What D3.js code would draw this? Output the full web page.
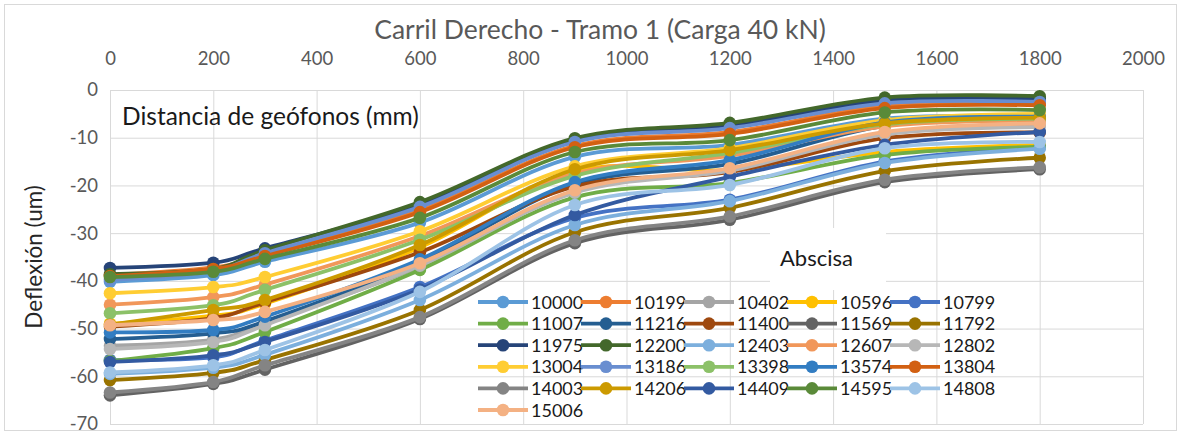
<!DOCTYPE html>
<html>
<head>
<meta charset="utf-8">
<script src="https://cdn.jsdelivr.net/npm/d3@7"></script>
<style>
  html, body { margin: 0; padding: 0; background: #fff; }
  svg { display: block; font-family: "Lato", "Liberation Sans", sans-serif; }
</style>
</head>
<body>
<svg id="chart" width="1181" height="435"></svg>
<script>
// Geophone distances (mm) along the top axis
const distances = [0, 200, 300, 600, 900, 1200, 1500, 1800];

// Abscissa (station) of each deflection basin
const abscisas = ["10000","10199","10402","10596","10799","11007","11216","11400","11569","11792",
                  "11975","12200","12403","12607","12802","13004","13186","13398","13574","13804",
                  "14003","14206","14409","14595","14808","15006"];

// Deflection (um) at each geophone, one row per abscissa
const deflections = [
  [-40.2, -38.8, -36.0, -27.8, -14.0, -11.5, -6.0, -5.5],
  [-38.8, -37.2, -34.5, -25.2, -11.7, -8.8, -3.4, -2.9],
  [-53.6, -52.3, -48.8, -37.0, -21.2, -16.6, -9.0, -7.5],
  [-49.0, -47.3, -44.8, -33.0, -17.0, -16.8, -13.0, -11.5],
  [-56.6, -56.0, -52.5, -41.3, -26.8, -23.0, -15.0, -12.0],
  [-56.8, -54.1, -50.7, -37.7, -22.5, -19.5, -13.6, -11.9],
  [-52.2, -51.0, -48.5, -36.0, -19.8, -15.5, -7.5, -6.2],
  [-49.6, -47.8, -44.5, -34.0, -20.2, -17.2, -10.1, -8.9],
  [-64.0, -61.6, -58.6, -48.0, -32.1, -27.2, -19.3, -16.6],
  [-60.8, -59.3, -56.6, -46.1, -29.8, -24.7, -17.0, -14.2],
  [-37.3, -36.2, -33.2, -24.0, -10.6, -7.5, -2.2, -1.9],
  [-38.6, -37.5, -33.6, -23.5, -10.1, -6.9, -1.6, -1.3],
  [-59.5, -58.2, -55.5, -44.0, -28.3, -23.3, -15.3, -12.3],
  [-45.0, -43.4, -40.8, -30.6, -17.5, -13.8, -7.6, -6.5],
  [-54.3, -52.8, -49.3, -36.8, -21.5, -16.9, -9.3, -7.8],
  [-42.6, -41.3, -39.2, -29.6, -16.0, -12.2, -6.3, -5.0],
  [-39.8, -38.0, -34.2, -24.5, -10.9, -8.0, -2.8, -2.5],
  [-46.8, -45.1, -41.9, -31.4, -18.0, -13.2, -7.2, -6.0],
  [-50.8, -50.3, -47.5, -35.5, -19.3, -14.7, -6.8, -5.6],
  [-39.0, -37.5, -34.8, -25.6, -12.0, -9.2, -3.8, -3.2],
  [-63.4, -61.2, -57.7, -47.6, -31.5, -26.5, -18.8, -16.2],
  [-49.2, -46.1, -44.0, -32.5, -16.6, -12.6, -7.0, -5.8],
  [-57.0, -55.6, -52.8, -41.8, -26.2, -18.2, -11.5, -8.8],
  [-39.2, -38.1, -35.4, -26.8, -13.0, -10.5, -4.7, -4.2],
  [-59.2, -57.7, -54.5, -42.3, -24.1, -19.9, -12.2, -10.9],
  [-49.3, -48.2, -46.5, -36.3, -21.0, -16.4, -8.8, -7.0]
];

// Axis ticks
const xTicks = [0, 200, 400, 600, 800, 1000, 1200, 1400, 1600, 1800, 2000];
const yTicks = [0, -10, -20, -30, -40, -50, -60, -70];

// Series palette
const palette = ["#5B9BD5","#ED7D31","#A5A5A5","#FFC000","#4472C4","#70AD47","#255E91","#9E480E",
                 "#636363","#997300","#264478","#43682B","#7CAFDD","#F1975A","#B7B7B7","#FFCD33",
                 "#698ED0","#8CC168","#327DC2","#D26012","#848484","#CC9A00","#335AA1","#5A8A39",
                 "#9DC3E6","#F4B183"];

const svg = d3.select("#chart");
const W = 1181, H = 435;
const plot = { left: 110, right: 1143, top: 90, bottom: 424 };

const x = d3.scaleLinear().domain([0, 2000]).range([plot.left, plot.right]);
const y = d3.scaleLinear().domain([0, -70]).range([plot.top, plot.bottom]);

// Chart frame
svg.append("rect")
  .attr("x", 4.5).attr("y", 4.5).attr("width", W - 9).attr("height", H - 9)
  .attr("fill", "#fff").attr("stroke", "#D9D9D9").attr("stroke-width", 1);

// Title
svg.append("text")
  .attr("x", 600).attr("y", 39)
  .attr("text-anchor", "middle")
  .attr("font-size", 26.5).attr("fill", "#595959")
  .text("Carril Derecho - Tramo 1 (Carga 40 kN)");

// Top axis with vertical gridlines
const xAxis = svg.append("g")
  .attr("transform", `translate(0,${plot.top})`)
  .call(d3.axisTop(x).tickValues(xTicks).tickFormat(d => String(d))
        .tickSize(-(plot.bottom - plot.top)).tickPadding(25));
xAxis.select(".domain").remove();
xAxis.selectAll("line").attr("stroke", "#D9D9D9").attr("stroke-width", 1);
xAxis.selectAll("text").attr("font-size", 18.5).attr("fill", "#595959")
  .attr("font-family", "Lato, 'Liberation Sans', sans-serif");

// Left axis with horizontal gridlines
const yAxis = svg.append("g")
  .attr("transform", `translate(${plot.left},0)`)
  .call(d3.axisLeft(y).tickValues(yTicks).tickFormat(d => String(d))
        .tickSize(-(plot.right - plot.left)).tickPadding(12));
yAxis.select(".domain").remove();
yAxis.selectAll("line").attr("stroke", "#D9D9D9").attr("stroke-width", 1);
yAxis.selectAll("text").attr("font-size", 18.5).attr("fill", "#595959")
  .attr("font-family", "Lato, 'Liberation Sans', sans-serif");

// Y axis title
svg.append("text")
  .attr("transform", `translate(42,${(plot.top + plot.bottom) / 2}) rotate(-90)`)
  .attr("text-anchor", "middle")
  .attr("font-size", 22.5).attr("fill", "#262626")
  .text("Deflexión (um)");

// Series lines and markers
const line = d3.line()
  .x((d, i) => x(distances[i]))
  .y(d => y(d))
  .curve(d3.curveCardinal.tension(0));

const series = svg.append("g").selectAll("g")
  .data(deflections)
  .join("g");

series.append("path")
  .attr("d", d => line(d))
  .attr("fill", "none")
  .attr("stroke", (d, i) => palette[i])
  .attr("stroke-width", 3.8)
  .attr("stroke-linejoin", "round");

series.each(function (vals, i) {
  d3.select(this).selectAll("circle")
    .data(vals)
    .join("circle")
    .attr("cx", (d, j) => x(distances[j]))
    .attr("cy", d => y(d))
    .attr("r", 6.3)
    .attr("fill", palette[i]);
});

// In-plot label for the horizontal axis
svg.append("text")
  .attr("x", 122).attr("y", 125)
  .attr("font-size", 24.5).attr("fill", "#1a1a1a")
  .text("Distancia de geófonos (mm)");

// Legend title box
svg.append("rect")
  .attr("x", 770).attr("y", 228).attr("width", 116).attr("height", 62)
  .attr("fill", "#fff");
svg.append("text")
  .attr("x", 780).attr("y", 266)
  .attr("font-size", 22).attr("fill", "#1a1a1a")
  .text("Abscisa");

// Legend
const legCols = 5, colW = 103, rowH = 21.6;
const leg = svg.append("g").attr("transform", "translate(478,302)");
const items = leg.selectAll("g")
  .data(abscisas)
  .join("g")
  .attr("transform", (d, i) => `translate(${(i % legCols) * colW},${Math.floor(i / legCols) * rowH})`);
items.append("line")
  .attr("x1", 0).attr("x2", 50).attr("y1", 0).attr("y2", 0)
  .attr("stroke", (d, i) => palette[i]).attr("stroke-width", 3.8);
items.append("circle")
  .attr("cx", 25).attr("cy", 0).attr("r", 6.3)
  .attr("fill", (d, i) => palette[i]);
items.append("text")
  .attr("x", 53).attr("y", 6.5)
  .attr("font-size", 18).attr("fill", "#1a1a1a")
  .text(d => d);
</script>
</body>
</html>
